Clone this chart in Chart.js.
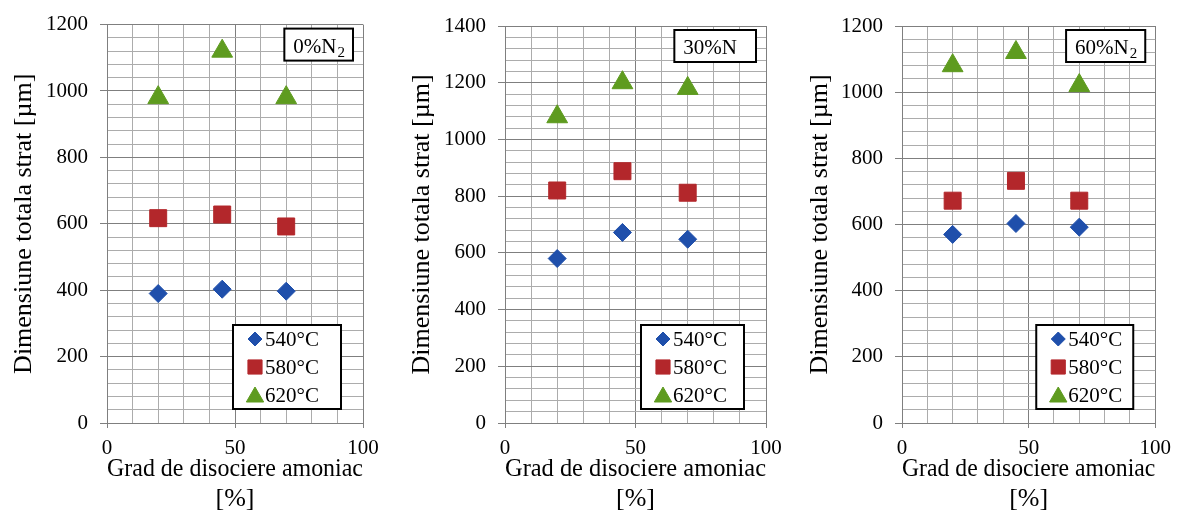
<!DOCTYPE html>
<html>
<head>
<meta charset="utf-8">
<script src="https://cdn.jsdelivr.net/npm/chart.js"></script>
<style>
  html, body { margin: 0; padding: 0; background: #fff; }
  body { width: 1179px; height: 514px; position: relative; overflow: hidden; }
  .box { position: absolute; top: 0; height: 514px; }
</style>
</head>
<body>
<div class="box" style="left:0;width:398px"><canvas id="c1"></canvas></div>
<div class="box" style="left:398px;width:398px"><canvas id="c2"></canvas></div>
<div class="box" style="left:796px;width:383px"><canvas id="c3"></canvas></div>
<script>
// data
const xVals = [20, 45, 70];
const seriesLabels = ['540°C', '580°C', '620°C'];
const tags = ['0%N', '30%N', '60%N'];
const tagSubs = ['2', '', '2'];
const yMaxes = [1200, 1400, 1200];

const n0_540 = [390, 403, 397];
const n0_580 = [617, 628, 592];
const n0_620 = [980, 1120, 980];

const n30_540 = [580, 672, 648];
const n30_580 = [820, 888, 812];
const n30_620 = [1080, 1200, 1180];

const n60_540 = [570, 603, 592];
const n60_580 = [672, 732, 672];
const n60_620 = [1080, 1120, 1020];

const colors = ['#1f4fab', '#b3272b', '#5e9b1f'];
const styles = ['rectRot', 'rect', 'triangle'];
const radii = [9, 12, 12];

const serif = "'Liberation Serif', 'Times New Roman', serif";

// legend box + N2 tag drawn inside the plot area
const insideBoxes = {
  id: 'insideBoxes',
  afterDraw(chart, args, opts) {
    const ctx = chart.ctx;
    const a = chart.chartArea;
    ctx.save();
    // tag box, top right
    ctx.font = '21px ' + serif;
    const mainW = ctx.measureText(opts.tag).width;
    ctx.font = '15px ' + serif;
    const subW = opts.sub ? ctx.measureText(opts.sub).width : 0;
    const tw = mainW + subW + 18 + opts.extra;
    const tx = a.right - 10 - tw, ty = a.top + 4;
    ctx.fillStyle = '#fff';
    ctx.fillRect(tx, ty, tw, 32);
    ctx.strokeStyle = '#000';
    ctx.lineWidth = 2;
    ctx.strokeRect(tx, ty, tw, 32);
    ctx.fillStyle = '#000';
    ctx.textBaseline = 'alphabetic';
    ctx.font = '21px ' + serif;
    ctx.fillText(opts.tag, tx + 9, ty + 24);
    if (opts.sub) {
      ctx.font = '15px ' + serif;
      ctx.fillText(opts.sub, tx + 9 + mainW + 1, ty + 28);
    }
    // legend box, bottom right
    const lw = opts.lw, lh = 84;
    const lx = a.right - 22 - lw, ly = a.bottom - 14 - lh;
    ctx.fillStyle = '#fff';
    ctx.fillRect(lx, ly, lw, lh);
    ctx.strokeRect(lx, ly, lw, lh);
    chart.data.datasets.forEach(function(ds, i) {
      const cy = ly + 14 + i * 28;
      ctx.fillStyle = ds.backgroundColor;
      ctx.strokeStyle = ds.borderColor;
      ctx.lineWidth = 1;
      Chart.helpers.drawPoint(ctx, {pointStyle: ds.pointStyle, radius: ds.legendRadius, rotation: 0, borderWidth: 1}, lx + 22, cy + (ds.pointStyle === 'triangle' ? 2 : 0));
      ctx.fillStyle = '#000';
      ctx.font = '21px ' + serif;
      ctx.textBaseline = 'middle';
      ctx.fillText(ds.label, lx + 32, cy + 1);
    });
    ctx.restore();
  }
};

function makeChart(id, series, idx, leftW, rightPad, lw, extra) {
  const yMax = yMaxes[idx];
  const datasets = series.map(function(vals, i) {
    return {
      label: seriesLabels[i],
      data: vals.map(function(v, j) { return {x: xVals[j], y: v}; }),
      pointStyle: styles[i],
      pointRadius: radii[i],
      pointHoverRadius: radii[i],
      legendRadius: [7, 10, 10][i],
      backgroundColor: colors[i],
      borderColor: colors[i],
      borderWidth: 1,
      showLine: false
    };
  });
  new Chart(document.getElementById(id), {
    type: 'scatter',
    data: { datasets: datasets },
    plugins: [insideBoxes],
    options: {
      responsive: true,
      maintainAspectRatio: false,
      animation: false,
      layout: { padding: { top: idx === 0 ? 24 : 26, right: rightPad, left: 0, bottom: 0 } },
      plugins: {
        legend: { display: false },
        tooltip: { enabled: false },
        insideBoxes: { tag: tags[idx], sub: tagSubs[idx], lw: lw, extra: extra }
      },
      scales: {
        x: {
          type: 'linear',
          min: 0, max: 100,
          afterFit: function(s) { s.height = 91; },
          ticks: {
            stepSize: 10,
            autoSkip: false,
            maxRotation: 0,
            padding: 8,
            color: '#000',
            font: { family: serif, size: 21 },
            callback: function(v) { return v % 50 === 0 ? v : ''; }
          },
          grid: {
            color: function(c) { return c.tick && c.tick.value % 50 === 0 ? '#7f7f7f' : '#acacac'; },
            tickColor: function(c) { return c.tick && c.tick.value % 50 === 0 ? '#7f7f7f' : 'rgba(0,0,0,0)'; },
            tickLength: 5
          },
          border: { color: '#7f7f7f' },
          title: {
            display: true,
            text: ['Grad de disociere amoniac', '[%]'],
            color: '#000',
            font: { family: serif, size: 26, lineHeight: 1.15 },
            padding: { top: 0, bottom: 0 }
          }
        },
        y: {
          min: 0, max: yMax,
          afterFit: function(s) { s.width = leftW; },
          ticks: {
            stepSize: 40,
            autoSkip: false,
            padding: 12,
            color: '#000',
            font: { family: serif, size: 21 },
            callback: function(v) { return v % 200 === 0 ? v : ''; }
          },
          grid: {
            color: function(c) { return c.tick && c.tick.value % 200 === 0 ? '#7f7f7f' : '#acacac'; },
            tickColor: function(c) { return c.tick && c.tick.value % 200 === 0 ? '#7f7f7f' : 'rgba(0,0,0,0)'; },
            tickLength: 7
          },
          border: { color: '#7f7f7f' },
          title: {
            display: true,
            text: 'Dimensiune totala strat [µm]',
            color: '#000',
            font: { family: serif, size: 26, lineHeight: 1.15 },
            padding: { top: 9, bottom: 0 }
          }
        }
      }
    }
  });
}

makeChart('c1', [n0_540, n0_580, n0_620], 0, 107, 35, 108, 0);
makeChart('c2', [n30_540, n30_580, n30_620], 1, 107, 30, 103, 10);
makeChart('c3', [n60_540, n60_580, n60_620], 2, 106, 20, 97, 0);
</script>
</body>
</html>
